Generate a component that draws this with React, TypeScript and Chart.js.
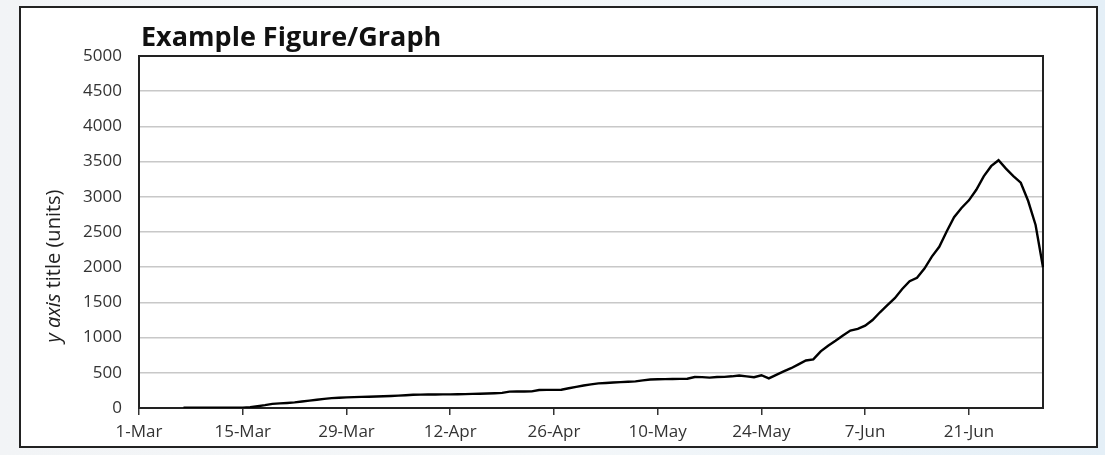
import React, { useEffect, useRef } from "react";
import { Chart, registerables } from "chart.js";

Chart.register(...registerables);

// ---- data ----
const MONTH_NAMES = ["Mar", "Apr", "May", "Jun", "Jul"];
const MONTH_LENGTHS = [31, 30, 31, 30, 1];
const LABEL_EVERY = 14; // a tick label every 14 days, starting 1-Mar

// daily values, 1-Mar .. 1-Jul (null = no data yet)
const VALUES: (number | null)[] = [
  null, null, null, null, null, null,
  4, 4, 4, 4, 4, 5, 5, 5, 6,
  12, 25, 40, 58, 66, 72, 80, 92, 105, 118,
  130, 140, 146, 151, 154, 158, 160, 163, 167, 171,
  176, 182, 188, 190, 191, 192, 193, 194, 195, 197,
  200, 203, 206, 210, 215, 232, 234, 235, 236, 256,
  258, 258, 260, 280, 300, 320, 335, 350, 355, 362,
  368, 372, 378, 392, 404, 408, 410, 412, 413, 415,
  440, 438, 432, 440, 442, 450, 462, 450, 437, 465,
  420, 470, 520, 565, 620, 675, 691, 805, 885, 955,
  1030, 1100, 1124, 1170, 1250, 1360, 1460, 1560, 1690, 1800,
  1850, 1980, 2150, 2290, 2508, 2710, 2841, 2950, 3100, 3290,
  3435, 3520, 3400, 3295, 3200, 2940, 2600, 2000,
];

const Y_MIN = 0;
const Y_MAX = 5000;
const Y_STEP = 500;

const TITLE = "Example Figure/Graph";
const Y_TITLE_ITALIC = "y axis";
const Y_TITLE_REST = " title (units)";

const LABELS: string[] = [];
MONTH_NAMES.forEach((m, i) => {
  for (let d = 1; d <= MONTH_LENGTHS[i]; d++) LABELS.push(`${d}-${m}`);
});

const FONT = "'Open Sans', 'Noto Sans', sans-serif";

const decorPlugin = {
  id: "decor",
  beforeDatasetsDraw(chart: any) {
    const { ctx, chartArea: a } = chart;
    ctx.save();
    ctx.strokeStyle = "#222";
    ctx.lineWidth = 2;
    ctx.strokeRect(a.left, a.top, a.right - a.left, a.bottom - a.top);
    ctx.restore();
  },
  afterDraw(chart: any) {
    const { ctx, chartArea: a } = chart;
    ctx.save();
    ctx.fillStyle = "#111";
    ctx.font = `bold 27px ${FONT}`;
    ctx.textAlign = "left";
    ctx.textBaseline = "alphabetic";
    ctx.fillText(TITLE, a.left + 2, 46);

    ctx.translate(60, 266);
    ctx.rotate(-Math.PI / 2);
    ctx.fillStyle = "#222";
    ctx.font = `italic 20px ${FONT}`;
    const w1 = ctx.measureText(Y_TITLE_ITALIC).width;
    ctx.font = `20px ${FONT}`;
    const w2 = ctx.measureText(Y_TITLE_REST).width;
    const x0 = -(w1 + w2) / 2;
    ctx.font = `italic 20px ${FONT}`;
    ctx.fillText(Y_TITLE_ITALIC, x0, 0);
    ctx.font = `20px ${FONT}`;
    ctx.fillText(Y_TITLE_REST, x0 + w1, 0);
    ctx.restore();
  },
};

export default function App() {
  const ref = useRef<HTMLCanvasElement | null>(null);

  useEffect(() => {
    if (!ref.current) return;
    const chart = new Chart(ref.current, {
      type: "line",
      data: {
        labels: LABELS,
        datasets: [
          {
            data: VALUES,
            borderColor: "#000",
            borderWidth: 2.4,
            pointRadius: 0,
            tension: 0,
            fill: false,
            spanGaps: false,
          },
        ],
      },
      options: {
        responsive: false,
        animation: false,
        devicePixelRatio: 1,
        layout: { padding: { left: 0, top: 56, right: 62, bottom: 0 } },
        plugins: { legend: { display: false }, tooltip: { enabled: false }, title: { display: false } },
        scales: {
          x: {
            type: "category",
            offset: false,
            afterFit: (s: any) => { s.height = 47; },
            grid: {
              display: true,
              drawOnChartArea: false,
              drawTicks: true,
              tickLength: 7,
              color: "#333",
              lineWidth: 1.5,
            },
            border: { display: true, color: "#222", width: 2 },
            ticks: {
              autoSkip: false,
              maxRotation: 0,
              minRotation: 0,
              padding: 7,
              color: "#333",
              font: { family: FONT, size: 17 },
              callback: function (this: any, value: any, index: number) {
                return index % LABEL_EVERY === 0 ? LABELS[index] : null;
              },
            },
          },
          y: {
            min: Y_MIN,
            max: Y_MAX,
            afterFit: (s: any) => { s.width = 139; },
            grid: { color: "#c8c8c8", lineWidth: 1.5, drawTicks: false },
            border: { display: true, color: "#222", width: 2 },
            ticks: {
              stepSize: Y_STEP,
              padding: 17,
              color: "#333",
              font: { family: FONT, size: 17 },
              callback: (value: any) => String(value),
            },
          },
        },
      },
      plugins: [decorPlugin],
    });
    return () => chart.destroy();
  }, []);

  return (
    <div
      style={{
        position: "fixed",
        left: 0,
        top: 0,
        width: 1105,
        height: 455,
        overflow: "hidden",
        background: "linear-gradient(90deg, #f2f4f6 0%, #f4f7f9 50%, #e4eff7 100%)",
      }}
    >
      <div
        style={{
          position: "absolute",
          left: 19,
          top: 6,
          width: 1079,
          height: 442,
          boxSizing: "border-box",
          border: "2px solid #222",
          background: "#fff",
        }}
      />
      <canvas
        ref={ref}
        width={1105}
        height={455}
        style={{ position: "absolute", left: 0, top: 0, width: 1105, height: 455 }}
      />
    </div>
  );
}
